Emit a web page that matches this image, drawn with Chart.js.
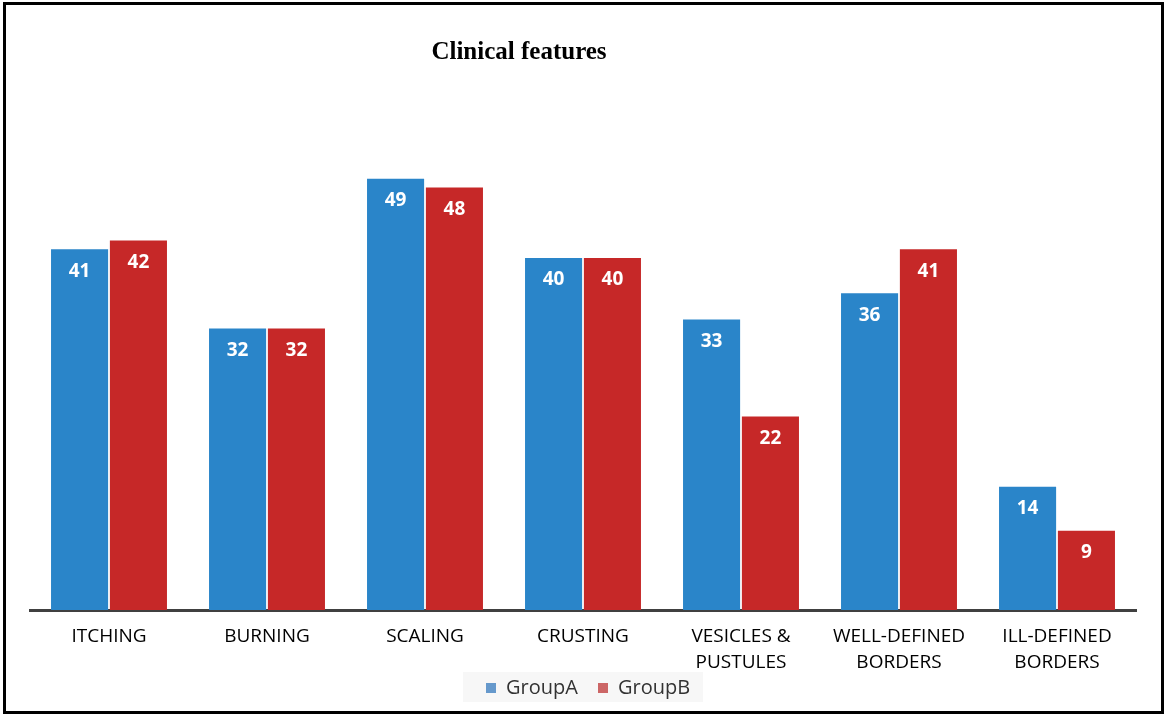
<!DOCTYPE html>
<html><head><meta charset="utf-8">
<script src="https://cdn.jsdelivr.net/npm/chart.js@4"></script>
<style>html,body{margin:0;padding:0;background:#fff}#wrap{width:1166px;height:716px}</style>
</head><body><div id="wrap"><canvas id="c"></canvas></div>
<script>
const categories = [["ITCHING"],["BURNING"],["SCALING"],["CRUSTING"],["VESICLES &","PUSTULES"],["WELL-DEFINED","BORDERS"],["ILL-DEFINED","BORDERS"]];
const groupA = [41,32,49,40,33,36,14];
const groupB = [42,32,48,40,22,41,9];
const seriesNames = ["GroupA","GroupB"];
const titleText = "Clinical features";

const blue = "#2A85C9", red = "#C62828";
const legendBlue = "#6699CC", legendRed = "#CC6666";

const extras = {
  id: 'extras',
  beforeDraw(chart){
    const ctx = chart.ctx;
    ctx.save();
    ctx.fillStyle = '#fff';
    ctx.fillRect(0,0,chart.width,chart.height);
    ctx.restore();
  },
  afterDatasetsDraw(chart){
    const ctx = chart.ctx;
    ctx.save();
    ctx.fillStyle = '#fff';
    ctx.font = 'bold 19px "Open Sans", "Noto Sans", sans-serif';
    ctx.textAlign = 'center';
    ctx.textBaseline = 'middle';
    chart.data.datasets.forEach((ds, i) => {
      chart.getDatasetMeta(i).data.forEach((bar, j) => {
        ctx.fillText(String(ds.data[j]), bar.x, bar.y + 22);
      });
    });
    ctx.restore();
  },
  afterDraw(chart){
    const ctx = chart.ctx;
    ctx.save();
    // legend
    const cx = (chart.chartArea.left + chart.chartArea.right) / 2;
    ctx.fillStyle = '#F7F7F7';
    ctx.fillRect(cx - 120, 672, 240, 30);
    ctx.font = '20px "Open Sans", "Noto Sans", sans-serif';
    ctx.textBaseline = 'middle';
    ctx.textAlign = 'left';
    const cols = [legendBlue, legendRed];
    const xs = [cx - 97, cx + 15];
    chart.data.datasets.forEach((ds, i) => {
      ctx.fillStyle = cols[i];
      ctx.fillRect(xs[i], 683, 10, 10);
      ctx.fillStyle = '#333';
      ctx.fillText(ds.label, xs[i] + 20, 688);
    });
    // title
    ctx.fillStyle = '#000';
    ctx.font = 'bold 25px "Liberation Serif", "Times New Roman", serif';
    ctx.textAlign = 'center';
    ctx.fillText(titleText, 519, 53);
    // frame
    ctx.strokeStyle = '#000';
    ctx.lineWidth = 3;
    ctx.strokeRect(4.5, 3.5, 1158, 709);
    ctx.restore();
  }
};

new Chart(document.getElementById('c'), {
  type: 'bar',
  data: {
    labels: categories,
    datasets: [
      {label: seriesNames[0], data: groupA, backgroundColor: blue, borderWidth: 0},
      {label: seriesNames[1], data: groupB, backgroundColor: red, borderWidth: 0}
    ]
  },
  options: {
    responsive: true,
    maintainAspectRatio: false,
    animation: false,
    devicePixelRatio: 1,
    categoryPercentage: 0.745,
    barPercentage: 0.97,
    layout: {padding: {left: 30, right: 30, top: 82, bottom: 46}},
    scales: {
      x: {
        grid: {display: false},
        border: {display: true, color: '#404040', width: 3},
        ticks: {color: '#000', font: {size: 19, lineHeight: 1.35, family: '"Open Sans", "Noto Sans", sans-serif'}, padding: 6, maxRotation: 0, autoSkip: false},
        afterFit(scale){ scale.height = 60; }
      },
      y: {display: false, min: 0, max: 60}
    },
    plugins: {
      legend: {display: false},
      title: {display: false},
      tooltip: {enabled: false}
    }
  },
  plugins: [extras]
});
</script></body></html>
